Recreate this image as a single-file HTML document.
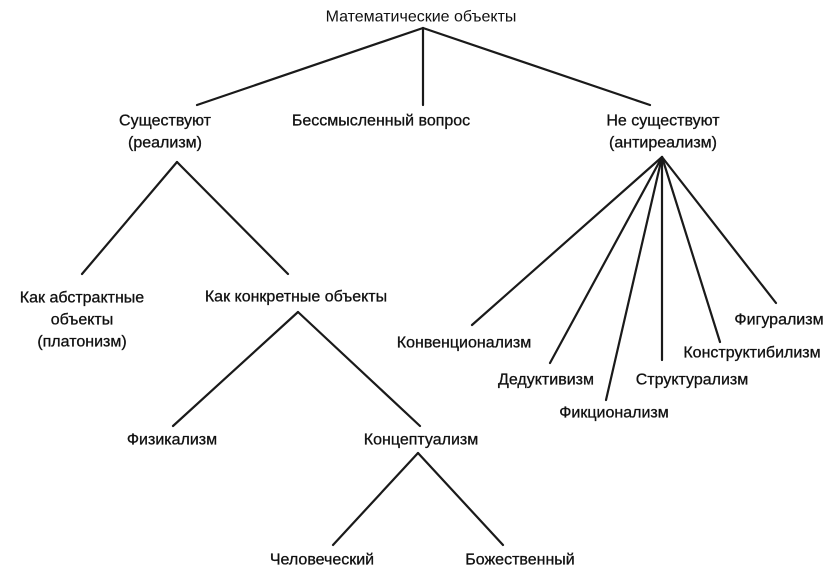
<!DOCTYPE html>
<html><head><meta charset="utf-8"><style>
html,body{margin:0;padding:0;background:#fff;width:833px;height:568px;overflow:hidden}
svg text{font-family:"Liberation Sans",sans-serif;font-size:16px;fill:#111;text-anchor:middle;dominant-baseline:central;stroke:#111;stroke-width:0.3px}
</style></head><body>
<svg width="833" height="568" viewBox="0 0 833 568" xmlns="http://www.w3.org/2000/svg">
<g stroke="#1a1a1a" stroke-width="2.2" fill="none" stroke-linecap="round">
<line x1="423" y1="28" x2="197" y2="105"/>
<line x1="423" y1="28" x2="423" y2="105"/>
<line x1="423" y1="28" x2="650" y2="105"/>
<line x1="177" y1="162" x2="82" y2="274"/>
<line x1="177" y1="162" x2="288" y2="274"/>
<line x1="662" y1="157" x2="472" y2="325"/>
<line x1="662" y1="157" x2="550" y2="363"/>
<line x1="662" y1="157" x2="606" y2="400"/>
<line x1="662" y1="157" x2="662" y2="360"/>
<line x1="662" y1="157" x2="720" y2="342"/>
<line x1="662" y1="157" x2="776" y2="303"/>
<line x1="298" y1="312" x2="173" y2="426"/>
<line x1="298" y1="312" x2="420" y2="426"/>
<line x1="418" y1="453" x2="333" y2="545"/>
<line x1="418" y1="453" x2="503" y2="545"/>
</g>
<text x="421" y="17" style="font-size:16px;stroke-width:0">Математические объекты</text>
<text x="165" y="121">Существуют</text>
<text x="165" y="143">(реализм)</text>
<text x="381" y="121">Бессмысленный вопрос</text>
<text x="663" y="121">Не существуют</text>
<text x="663" y="143">(антиреализм)</text>
<text x="82" y="298">Как абстрактные</text>
<text x="82" y="320">объекты</text>
<text x="82" y="342">(платонизм)</text>
<text x="296" y="297">Как конкретные объекты</text>
<text x="464" y="343">Конвенционализм</text>
<text x="546" y="380">Дедуктивизм</text>
<text x="614" y="413">Фикционализм</text>
<text x="692" y="380">Структурализм</text>
<text x="752" y="353">Конструктибилизм</text>
<text x="779" y="320">Фигурализм</text>
<text x="172" y="440">Физикализм</text>
<text x="421" y="440">Концептуализм</text>
<text x="322" y="560">Человеческий</text>
<text x="520" y="560">Божественный</text>
</svg>
</body></html>
